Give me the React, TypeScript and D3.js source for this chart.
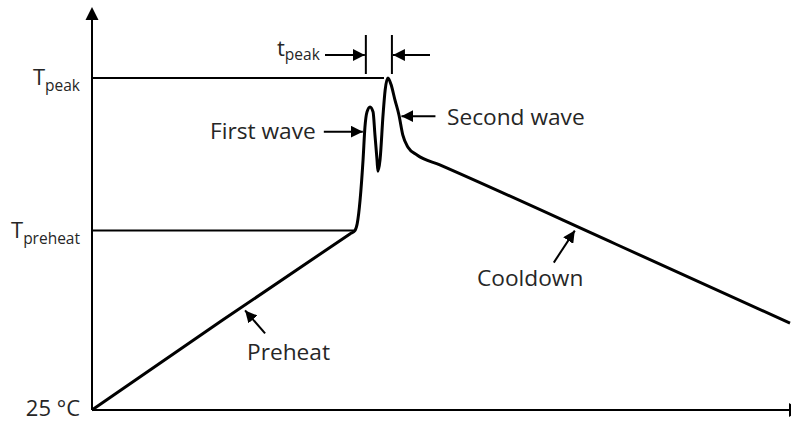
import React from "react";
import * as d3 from "d3";

// reflow profile (time in s, temperature in °C)
const profileTime = [0, 56, 111, 113, 114, 116.5, 117.3, 118.2, 119.5, 120.8, 121.6, 122.5, 122.9, 123.8, 125.1, 126, 127.2, 128.5, 130.2, 131.9, 133.6, 135.8, 139.7, 149.5, 225, 300];
const profileTemp = [25, 88.5, 149.8, 152, 157, 202, 225, 236, 239.5, 236, 220, 202, 194, 202, 234, 251.5, 260, 255.5, 244.5, 234, 219.5, 211, 205.5, 198.5, 142.5, 86.5];

const levelNames = ["25 °C", "T|preheat", "T|peak"];
const levelValues = [25, 152, 260];
const levelEnds = [0, 113, 125.5];

const tPeakBounds = [117.7, 128.9];

const W = 791;
const H = 421;
const FONT = "'Open Sans', 'DejaVu Sans', sans-serif";
const INK = "#262626";

export default function App() {
  const x = d3.scaleLinear().domain([0, 300]).range([92, 790]);
  const y = d3.scaleLinear().domain([25, 260]).range([410, 78]);

  const pts: [number, number][] = profileTime.map((t, i) => [t, profileTemp[i]]);
  const line = d3
    .line<[number, number]>()
    .x((d) => x(d[0]))
    .y((d) => y(d[1]))
    .curve(d3.curveMonotoneX);

  const x0 = x(0);
  const y0 = y(25);

  // annotation arrows: [label, tip time, tip temp, tail dx, tail dy, text x, text y]
  const notes: [string, number, number, number, number, number, number][] = [
    ["First wave", 116.4, 222, -39, 0, 210, 139],
    ["Second wave", 133.0, 233, 34, 0, 447, 125],
    ["Preheat", 65.8, 95.5, 20, 23, 247, 360],
    ["Cooldown", 207.5, 152, -21, 32, 477, 286],
  ];

  const tpA = x(tPeakBounds[0]);
  const tpB = x(tPeakBounds[1]);

  return (
    <svg width={W} height={H} style={{ position: "absolute", left: 0, top: 0, background: "#fff" }}>
      <defs>
        <marker id="ah" viewBox="0 0 12 12" refX="12" refY="6" markerWidth="12" markerHeight="12" markerUnits="userSpaceOnUse" orient="auto">
          <path d="M0,0 L12,6 L0,12 Z" fill="#000" />
        </marker>
      </defs>

      {/* axes */}
      <line x1={x0} y1={y0} x2={x0} y2={19} stroke="#000" strokeWidth={2} />
      <path d={`M${x0 - 6.5},20 L${x0 + 6.5},20 L${x0},7 Z`} fill="#000" />
      <line x1={x0} y1={y0} x2={789} y2={y0} stroke="#000" strokeWidth={2} />
      <path d={`M789,403 L789,417 L801,${y0} Z`} fill="#000" />

      {/* level lines */}
      {levelValues.map((v, i) =>
        levelEnds[i] > 0 ? (
          <line key={i} x1={x0} x2={x(levelEnds[i])} y1={y(v)} y2={y(v)} stroke="#000" strokeWidth={2} />
        ) : null
      )}

      {/* level labels */}
      {levelNames.map((n, i) => {
        const [main, sub] = n.split("|");
        return (
          <text key={n} x={80} y={y(levelValues[i]) + (sub ? 7 : 6)} textAnchor="end" fontFamily={FONT} fill={INK} fontSize={22}>
            {main}
            {sub ? (
              <tspan fontSize={15.5} dy={6}>
                {sub}
              </tspan>
            ) : null}
          </text>
        );
      })}

      {/* profile */}
      <path d={line(pts) || ""} fill="none" stroke="#000" strokeWidth={3} strokeLinejoin="round" />

      {/* t_peak markers */}
      <line x1={tpA} x2={tpA} y1={35} y2={74} stroke="#000" strokeWidth={2} />
      <line x1={tpB} x2={tpB} y1={35} y2={74} stroke="#000" strokeWidth={2} />
      <line x1={325} x2={tpA - 1} y1={55} y2={55} stroke="#000" strokeWidth={2} markerEnd="url(#ah)" />
      <line x1={430} x2={tpB + 1} y1={55} y2={55} stroke="#000" strokeWidth={2} markerEnd="url(#ah)" />
      <text x={277} y={56} fontFamily={FONT} fill={INK} fontSize={22}>
        t
        <tspan fontSize={15.5} dy={4}>
          peak
        </tspan>
      </text>

      {/* annotations */}
      {notes.map(([label, t, v, dx, dy, tx, ty]) => {
        const px = x(t);
        const py = y(v);
        return (
          <g key={label}>
            <line x1={px + dx} y1={py + dy} x2={px} y2={py} stroke="#000" strokeWidth={2} markerEnd="url(#ah)" />
            <text x={tx} y={ty} fontFamily={FONT} fill={INK} fontSize={22.7}>
              {label}
            </text>
          </g>
        );
      })}
    </svg>
  );
}
